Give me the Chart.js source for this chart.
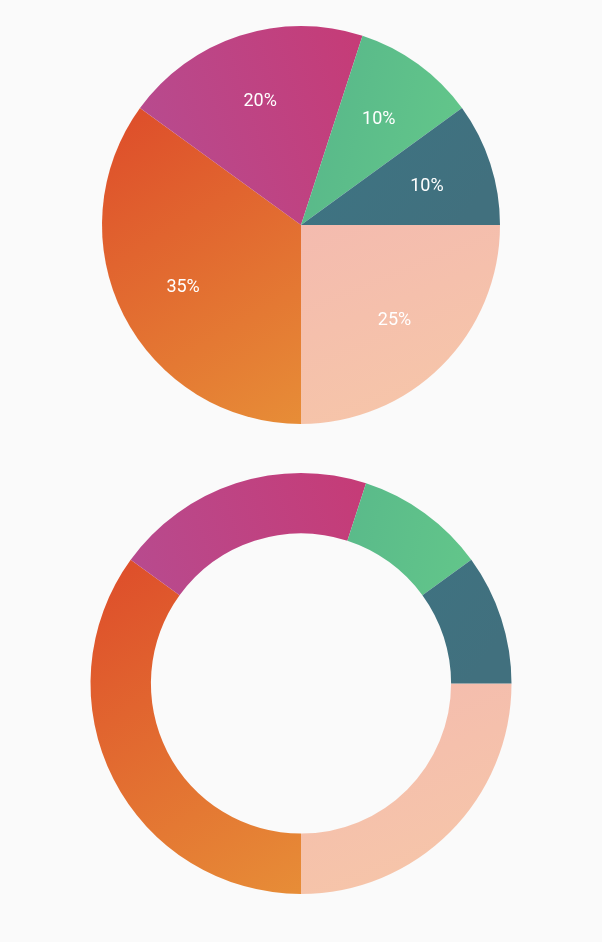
<!DOCTYPE html>
<html>
<head>
<meta charset="utf-8">
<script src="https://cdn.jsdelivr.net/npm/chart.js@4/dist/chart.umd.min.js"></script>
<style>
  html, body { margin: 0; padding: 0; background: #fafafa; }
  .box { position: relative; width: 602px; }
  #pieBox { height: 450px; }
  #donutBox { height: 492px; }
</style>
</head>
<body>
<div class="box" id="pieBox"><canvas id="pieChart"></canvas></div>
<div class="box" id="donutBox"><canvas id="donutChart"></canvas></div>
<script>
// Segments, clockwise from 3 o'clock
const segments = ["Peach", "Orange", "Magenta", "Green", "Teal"];
const shares = [25, 35, 20, 10, 10];

// gradient colours per segment: [start, end]
const segmentColors = [
  ["#f4bbaf", "#f6c5a9"],
  ["#de502b", "#e78d37"],
  ["#b74b8f", "#c63b76"],
  ["#59b98a", "#64c88a"],
  ["#3e7382", "#41707e"],
];
// gradient direction, relative to the circle's bounding box: x0, y0, x1, y1
const gradientDirs = [
  [0.5, 0.5, 0.7, 1.0],
  [0.05, 0.25, 0.5, 1.0],
  [0.1, 0.3, 0.7, 0.1],
  [0.55, 0.2, 0.95, 0.3],
  [0.6, 0.3, 0.9, 0.5],
];

function sliceFill(context) {
  const i = context.dataIndex;
  const area = context.chart.chartArea;
  if (!area) return segmentColors[i][0];
  const cx = (area.left + area.right) / 2;
  const cy = (area.top + area.bottom) / 2;
  const r = Math.min(area.right - area.left, area.bottom - area.top) / 2;
  const x0 = cx - r, y0 = cy - r, s = 2 * r;
  const d = gradientDirs[i];
  const g = context.chart.ctx.createLinearGradient(
    x0 + d[0] * s, y0 + d[1] * s, x0 + d[2] * s, y0 + d[3] * s
  );
  g.addColorStop(0, segmentColors[i][0]);
  g.addColorStop(1, segmentColors[i][1]);
  return g;
}

// percent labels inside the pie slices
const sliceLabels = {
  id: "sliceLabels",
  afterDatasetsDraw(chart) {
    const ctx = chart.ctx;
    const meta = chart.getDatasetMeta(0);
    ctx.save();
    ctx.fillStyle = "#ffffff";
    ctx.font = "18px Roboto";
    ctx.textAlign = "center";
    ctx.textBaseline = "middle";
    meta.data.forEach((arc, i) => {
      const p = arc.getProps(["x", "y", "startAngle", "endAngle", "outerRadius"], true);
      const mid = (p.startAngle + p.endAngle) / 2;
      const dist = p.outerRadius * 0.665;
      ctx.fillText(
        chart.data.datasets[0].data[i] + "%",
        p.x + Math.cos(mid) * dist,
        p.y + Math.sin(mid) * dist + 2
      );
    });
    ctx.restore();
  },
};

const commonOptions = {
  responsive: true,
  maintainAspectRatio: false,
  animation: false,
  rotation: 90,
  plugins: {
    legend: { display: false },
    tooltip: { enabled: false },
  },
};

const pieChart = new Chart(document.getElementById("pieChart"), {
  type: "pie",
  data: {
    labels: segments,
    datasets: [
      {
        data: shares,
        backgroundColor: sliceFill,
        borderWidth: 0,
      },
    ],
  },
  options: {
    ...commonOptions,
    layout: { padding: { top: 26, bottom: 26 } },
  },
  plugins: [sliceLabels],
});

const donutChart = new Chart(document.getElementById("donutChart"), {
  type: "doughnut",
  data: {
    labels: segments,
    datasets: [
      {
        data: shares,
        backgroundColor: sliceFill,
        borderWidth: 0,
      },
    ],
  },
  options: {
    ...commonOptions,
    cutout: "71.3%",
    layout: { padding: { top: 23, bottom: 48 } },
  },
});
</script>
</body>
</html>
